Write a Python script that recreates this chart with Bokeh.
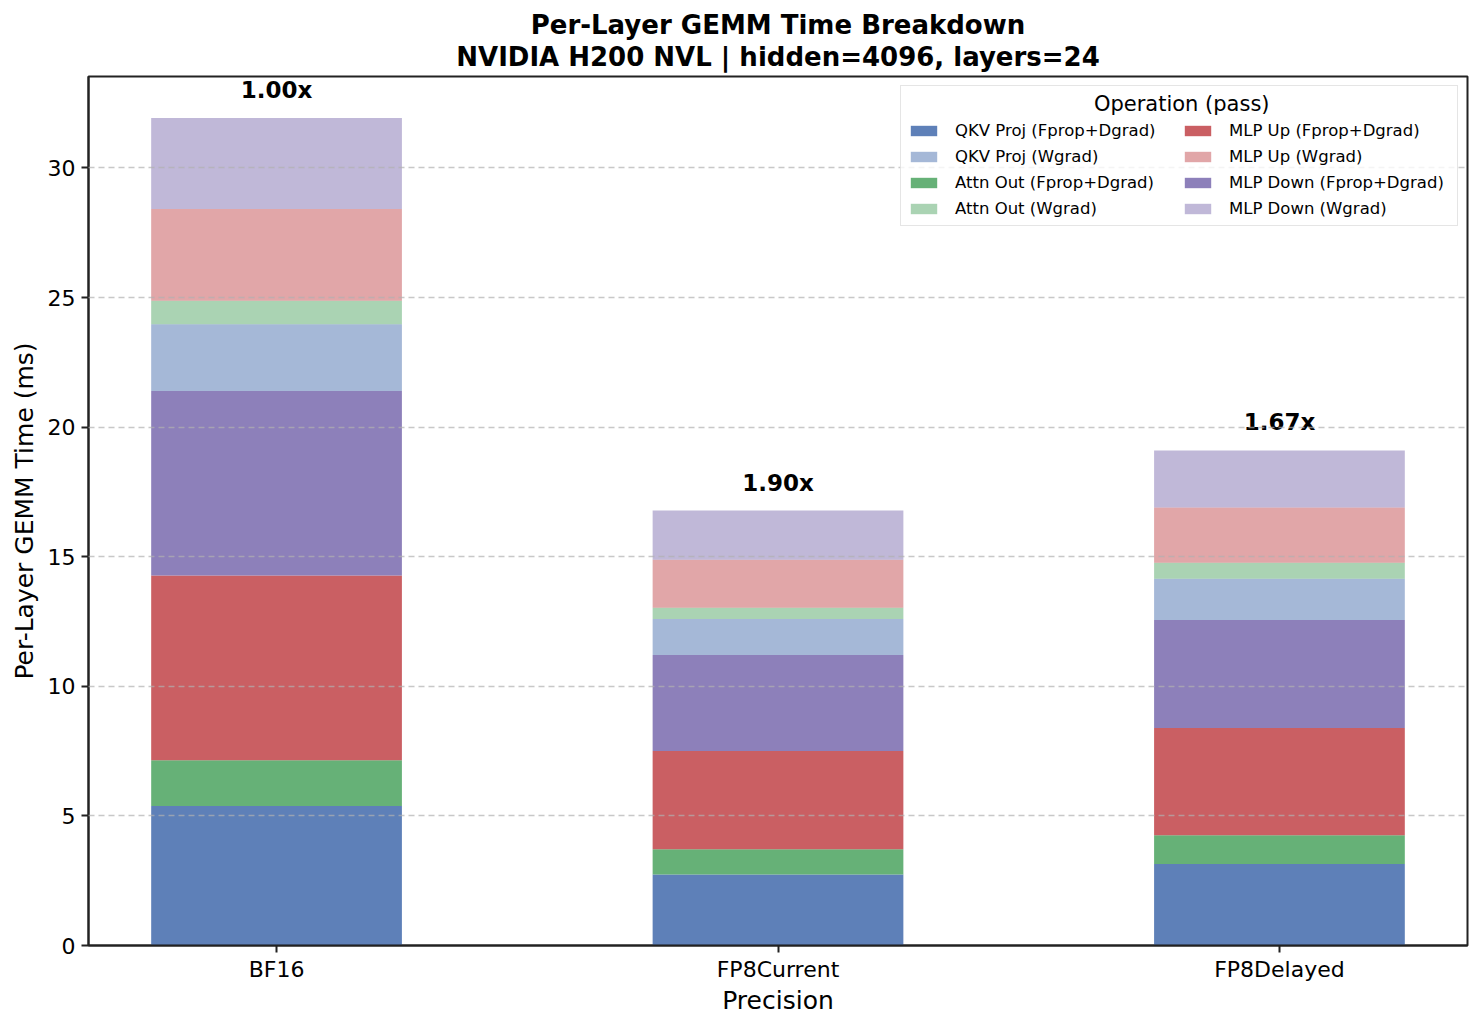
from bokeh.plotting import figure
from bokeh.models import (ColumnDataSource, Range1d, FixedTicker, Legend, LegendItem,
                          Title, LabelSet)
from bokeh.core.properties import value
from bokeh.embed import file_html
from bokeh.resources import INLINE

# ---- data ----
precisions = ["BF16", "FP8Current", "FP8Delayed"]
qkv_fd = [5.38, 2.74, 3.14]
attn_fd = [1.77, 0.97, 1.11]
mlpup_fd = [7.12, 3.79, 4.14]
mlpdown_fd = [7.12, 3.71, 4.17]
qkv_w = [2.58, 1.39, 1.59]
attn_w = [0.90, 0.43, 0.62]
mlpup_w = [3.54, 1.85, 2.13]
mlpdown_w = [3.52, 1.90, 2.20]

stack_keys = ["qkv_fd", "attn_fd", "mlpup_fd", "mlpdown_fd",
              "qkv_w", "attn_w", "mlpup_w", "mlpdown_w"]
stack_names = ["QKV Proj (Fprop+Dgrad)", "Attn Out (Fprop+Dgrad)",
               "MLP Up (Fprop+Dgrad)", "MLP Down (Fprop+Dgrad)",
               "QKV Proj (Wgrad)", "Attn Out (Wgrad)",
               "MLP Up (Wgrad)", "MLP Down (Wgrad)"]
stack_colors = ["#4C72B0", "#55A868", "#C44E52", "#8172B2",
                "#4C72B0", "#55A868", "#C44E52", "#8172B2"]
stack_alphas = [0.9, 0.9, 0.9, 0.9, 0.5, 0.5, 0.5, 0.5]
legend_order = ["QKV Proj (Fprop+Dgrad)", "QKV Proj (Wgrad)",
                "Attn Out (Fprop+Dgrad)", "Attn Out (Wgrad)",
                "MLP Up (Fprop+Dgrad)", "MLP Up (Wgrad)",
                "MLP Down (Fprop+Dgrad)", "MLP Down (Wgrad)"]
legend_title = "Operation (pass)"
title_lines = ["Per-Layer GEMM Time Breakdown",
               "NVIDIA H200 NVL | hidden=4096, layers=24"]

series = [qkv_fd, attn_fd, mlpup_fd, mlpdown_fd, qkv_w, attn_w, mlpup_w, mlpdown_w]
xpos = list(range(len(precisions)))
totals = [sum(s[i] for s in series) for i in xpos]
speedups = [f"{totals[0] / t:.2f}x" for t in totals]

data = dict(x=xpos, total=totals, speedup=speedups)
for k, s in zip(stack_keys, series):
    data[k] = s
source = ColumnDataSource(data)

FONT = "DejaVu Sans"

p = figure(width=1474, height=1022, output_backend="svg", toolbar_location=None,
           x_range=Range1d(-0.375, 2.375), y_range=Range1d(0, max(totals) * 1.05),
           min_border_left=88, min_border_right=7, min_border_top=76, min_border_bottom=77)
p.title = None
# line 2 added first (closest to the plot), then line 1 above it
p.add_layout(Title(text=title_lines[1], align="center", text_font=FONT,
                   text_font_size="26px", text_font_style="bold", text_color="black",
                   standoff=10), "above")
p.add_layout(Title(text=title_lines[0], align="center", text_font=FONT,
                   text_font_size="26px", text_font_style="bold", text_color="black",
                   standoff=-10), "above")

renderers = p.vbar_stack(stack_keys, x="x", width=0.5, source=source,
                         fill_color=stack_colors, fill_alpha=stack_alphas,
                         line_color=None)
rmap = dict(zip(stack_names, renderers))

labels = LabelSet(x="x", y="total", text="speedup", source=source, y_offset=15,
                  text_align="center", text_baseline="bottom", text_font=value(FONT),
                  text_font_size=value("23px"), text_font_style=value("bold"),
                  text_color=value("black"))
p.add_layout(labels)

legend = Legend(items=[LegendItem(label=n, renderers=[rmap[n]]) for n in legend_order],
                location="top_right", ncols=2, title=" " * 28 + legend_title,
                title_text_font=FONT, title_text_font_size="21px",
                title_text_font_style="normal", title_text_color="black",
                label_text_font=FONT, label_text_font_size="16.5px",
                label_text_color="black",
                background_fill_alpha=0.8, border_line_color="#cccccc",
                border_line_width=1.5, margin=9, padding=6, spacing=4,
                label_standoff=15, glyph_width=33, glyph_height=13,
                label_height=22, label_width=222, title_standoff=3)
p.add_layout(legend)

p.xaxis.ticker = FixedTicker(ticks=xpos)
p.xaxis.major_label_overrides = {i: c for i, c in zip(xpos, precisions)}
p.yaxis.ticker = FixedTicker(ticks=[0, 5, 10, 15, 20, 25, 30])
p.xaxis.axis_label = "Precision"
p.yaxis.axis_label = "Per-Layer GEMM Time (ms)"
for ax in (p.xaxis, p.yaxis):
    ax.axis_label_text_font = FONT
    ax.axis_label_text_font_size = "25px"
    ax.axis_label_text_font_style = "normal"
    ax.axis_label_text_color = "black"
    ax.major_label_text_font = FONT
    ax.major_label_text_font_size = "22px"
    ax.major_label_text_color = "black"
    ax.axis_line_color = "#222222"
    ax.axis_line_width = 2
    ax.major_tick_line_color = "#222222"
    ax.major_tick_line_width = 2
    ax.major_tick_out = 7
    ax.major_tick_in = 0
    ax.minor_tick_line_color = None
p.xaxis.major_label_standoff = 4
p.yaxis.major_label_standoff = 6
p.xaxis.axis_label_standoff = 1
p.yaxis.axis_label_standoff = 6

p.outline_line_color = "#222222"
p.outline_line_width = 2
p.xgrid.grid_line_color = None
p.ygrid.grid_line_color = "#b0b0b0"
p.ygrid.grid_line_alpha = 0.7
p.ygrid.grid_line_dash = "6 4"
p.ygrid.grid_line_width = 1.5
p.ygrid.level = "overlay"
p.background_fill_color = "white"

open("out.html", "w").write(file_html(p, INLINE))
